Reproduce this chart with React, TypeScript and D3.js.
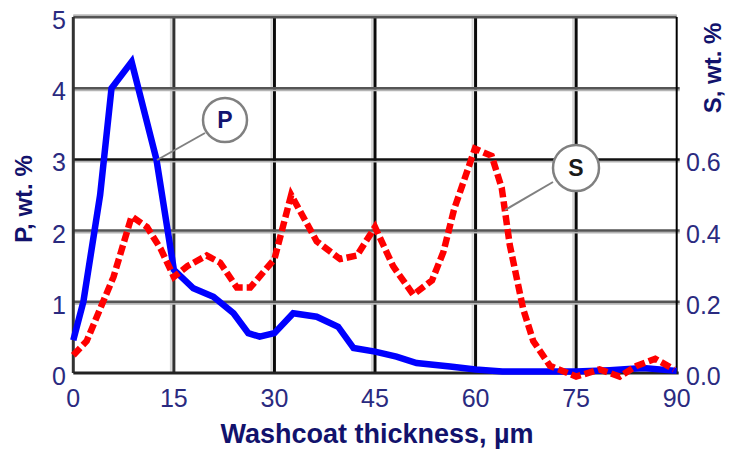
import React from 'react';
import * as d3 from 'd3';

// P content (left axis), wt. %
const thicknessP = [0, 1.5, 4, 5.7, 8.7, 12.4, 15, 17.9, 20.9, 23.9, 26.1, 27.8, 30, 32.8, 36.3, 39.5, 41.8, 45, 48.2, 51.2, 56.2, 60, 64, 70, 75, 80, 85, 90];
const pValues = [0.46, 1.0, 2.5, 4.0, 4.37, 3.0, 1.45, 1.19, 1.07, 0.84, 0.56, 0.51, 0.56, 0.84, 0.79, 0.65, 0.35, 0.3, 0.23, 0.14, 0.09, 0.05, 0.02, 0.02, 0.02, 0.04, 0.07, 0.03];

// S content (right axis), wt. %
const thicknessS = [0, 2, 4, 6, 8.7, 11, 13, 15, 17, 19.9, 21.9, 24.4, 26.4, 30, 32.5, 36.3, 39.8, 42.3, 45, 47.7, 50.7, 53.5, 55.2, 56.8, 59.9, 62.4, 63.9, 65.1, 66.1, 67.1, 68.6, 71.1, 75, 78.5, 81.5, 84, 86.8, 89.6];
const sValues = [0.05, 0.09, 0.18, 0.27, 0.44, 0.41, 0.35, 0.27, 0.3, 0.33, 0.31, 0.24, 0.24, 0.32, 0.5, 0.37, 0.32, 0.33, 0.41, 0.3, 0.22, 0.26, 0.34, 0.46, 0.63, 0.61, 0.52, 0.36, 0.27, 0.18, 0.09, 0.02, -0.01, 0.01, -0.01, 0.02, 0.04, 0.01];

const xTicks = [0, 15, 30, 45, 60, 75, 90];
const pTicks = [0, 1, 2, 3, 4, 5];
const sTicks = [0, 0.2, 0.4, 0.6];

const font = '"Liberation Sans", Arial, sans-serif';
const tickColor = '#2a2a80';
const titleColor = '#12126c';

const App = () => {
  const x = d3.scaleLinear().domain([0, 90]).range([73.3, 676.7]);
  const yP = d3.scaleLinear().domain([0, 5]).range([373, 17]);
  const yS = d3.scaleLinear().domain([0, 1]).range([373, 17]);

  const pLine = d3.line<number>()
    .x((d, i) => x(thicknessP[i]))
    .y(d => yP(d));
  const sLine = d3.line<number>()
    .x((d, i) => x(thicknessS[i]))
    .y(d => yS(d));

  const [x0, x1] = x.range();
  const yBottom = yP(0);
  const yTop = yP(5);

  return (
    <svg width={730} height={450} style={{ position: 'absolute', left: 0, top: 0, background: '#fff' }}>
      {/* vertical grid */}
      {xTicks.slice(1, -1).map(t => (
        <g key={'v' + t}>
          <line x1={x(t) - 3} x2={x(t) - 3} y1={yTop} y2={yBottom} stroke="#d8d8d8" strokeWidth={2} />
          <line x1={x(t)} x2={x(t)} y1={yTop} y2={yBottom} stroke={t === 15 ? '#333' : '#0a0a0a'} strokeWidth={3} />
        </g>
      ))}
      {/* horizontal grid */}
      {pTicks.slice(1, -1).map(t => (
        <g key={'h' + t}>
          <line x1={x0} x2={x1 + 3} y1={yP(t) + 2} y2={yP(t) + 2} stroke="#b4b4b4" strokeWidth={2} />
          <line x1={x0} x2={x1 + 3} y1={yP(t)} y2={yP(t)} stroke={t === 3 ? '#111' : '#555'} strokeWidth={2.5} />
        </g>
      ))}
      {/* frame */}
      <line x1={x0} x2={x1} y1={yTop} y2={yTop} stroke="#555" strokeWidth={3} />
      <line x1={x0} x2={x1} y1={yTop - 2} y2={yTop - 2} stroke="#bbb" strokeWidth={1.5} />
      <line x1={x1} x2={x1} y1={yTop} y2={yBottom} stroke="#000" strokeWidth={2} />
      <line x1={x0} x2={x0} y1={yTop} y2={yBottom} stroke="#333" strokeWidth={3} />
      <line x1={x0} x2={x1 + 2} y1={yBottom} y2={yBottom} stroke="#222" strokeWidth={3} />

      {/* P series */}
      <path d={pLine(pValues) || ''} fill="none" stroke="#0000ff" strokeWidth={6.5} />
      {/* S series */}
      <path d={sLine(sValues) || ''} fill="none" stroke="#ff0000" strokeWidth={6.5} strokeDasharray="10,4" />

      {/* annotations */}
      <line x1={205} y1={133} x2={157} y2={160} stroke="#808080" strokeWidth={2} />
      <circle cx={225} cy={120} r={22} fill="#fff" stroke="#808080" strokeWidth={2.5} />
      <text x={225} y={128} textAnchor="middle" fontFamily={font} fontWeight="bold" fontSize={23} fill="#141470">P</text>

      <line x1={553} y1={182} x2={505} y2={210} stroke="#808080" strokeWidth={2} />
      <circle cx={576} cy={168} r={23} fill="#fff" stroke="#808080" strokeWidth={2.5} />
      <text x={576} y={176} textAnchor="middle" fontFamily={font} fontWeight="bold" fontSize={23} fill="#1a1a1a">S</text>

      {/* x axis */}
      {xTicks.map(t => (
        <text key={'xt' + t} x={x(t)} y={407} textAnchor="middle" fontFamily={font} fontSize={25} fill={tickColor}>{t}</text>
      ))}
      <text x={377} y={443} textAnchor="middle" fontFamily={font} fontWeight="bold" fontSize={27} fill={titleColor}>Washcoat thickness, µm</text>

      {/* left axis */}
      {pTicks.map(t => (
        <text key={'pt' + t} x={66} y={yP(t) + 12} textAnchor="end" fontFamily={font} fontSize={25} fill={tickColor}>{t}</text>
      ))}
      <text transform="translate(32,199) rotate(-90)" textAnchor="middle" fontFamily={font} fontWeight="bold" fontSize={24} fill={titleColor}>P, wt. %</text>

      {/* right axis */}
      {sTicks.map(t => (
        <text key={'st' + t} x={686} y={yS(t) + 12} textAnchor="start" fontFamily={font} fontSize={25} fill={tickColor}>{t.toFixed(1)}</text>
      ))}
      <text transform="translate(721,68) rotate(-90)" textAnchor="middle" fontFamily={font} fontWeight="bold" fontSize={24} fill={titleColor}>S, wt. %</text>
    </svg>
  );
};

export default App;
